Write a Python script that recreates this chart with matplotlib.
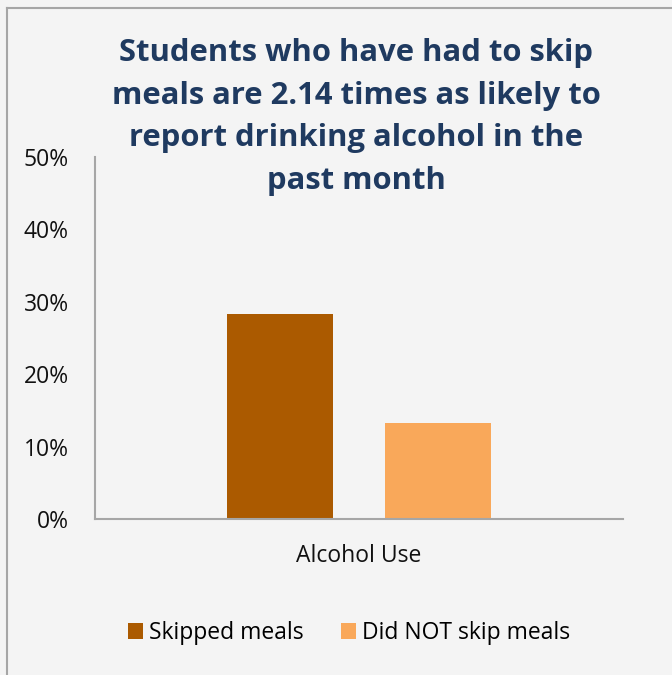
import matplotlib.pyplot as plt
from matplotlib.lines import Line2D
from matplotlib.patches import Patch

# data
category = ["Alcohol Use"]
series_names = ["Skipped meals", "Did NOT skip meals"]
skipped = [28.3]
not_skipped = [13.2]
yticks = [0, 10, 20, 30, 40, 50]

title = ("Students who have had to skip\n"
         "meals are 2.14 times as likely to\n"
         "report drinking alcohol in the\n"
         "past month")

bg = "#f4f4f4"
colors = ["#ab5a00", "#f9a85a"]
navy = "#1f3a60"
grey = "#a6a6a6"

plt.rcParams["font.family"] = ["Open Sans", "DejaVu Sans"]

fig = plt.figure(figsize=(6.72, 6.75), dpi=100, facecolor=bg)
ax = fig.add_axes([95 / 672, 1 - 519 / 675, 528 / 672, 362 / 675])
ax.set_facecolor(bg)

x = range(len(category))
ax.bar([i - 0.15 for i in x], skipped, width=0.2, color=colors[0], zorder=2)
ax.bar([i + 0.15 for i in x], not_skipped, width=0.2, color=colors[1], zorder=2)

ax.set_xlim(-0.5, 0.5)
ax.set_ylim(0, 50)
ax.set_yticks(yticks)
ax.set_yticklabels([f"{t}%" for t in yticks], fontsize=16.5, color="#111111")
ax.set_xticks(list(x))
ax.set_xticklabels(category, fontsize=16.5, color="#111111")
ax.tick_params(axis="y", length=0, pad=19)
ax.tick_params(axis="x", length=0, pad=18)

for side in ["top", "right"]:
    ax.spines[side].set_visible(False)
for side in ["left", "bottom"]:
    ax.spines[side].set_color(grey)
    ax.spines[side].set_linewidth(1.5)

fig.text(356 / 672, 1 - 117 / 675, title, ha="center", va="center",
         fontsize=22.3, fontweight="bold", color=navy, linespacing=1.54)

handles = [Patch(facecolor=c, edgecolor="none") for c in colors]
fig.legend(handles, series_names, loc="center", bbox_to_anchor=(349 / 672, 1 - 633 / 675),
           ncol=2, frameon=False, fontsize=16.5, handlelength=0.65, handleheight=0.65,
           handletextpad=0.26, columnspacing=1.65)

# outer frame (left and top edges visible)
fig.add_artist(Line2D([7 / 672, 7 / 672], [0, 1 - 8 / 675], transform=fig.transFigure,
                      color=grey, linewidth=1.5))
fig.add_artist(Line2D([7 / 672, 1], [1 - 8 / 675, 1 - 8 / 675], transform=fig.transFigure,
                      color=grey, linewidth=1.5))

fig.savefig("out.png", dpi=100, facecolor=bg)
